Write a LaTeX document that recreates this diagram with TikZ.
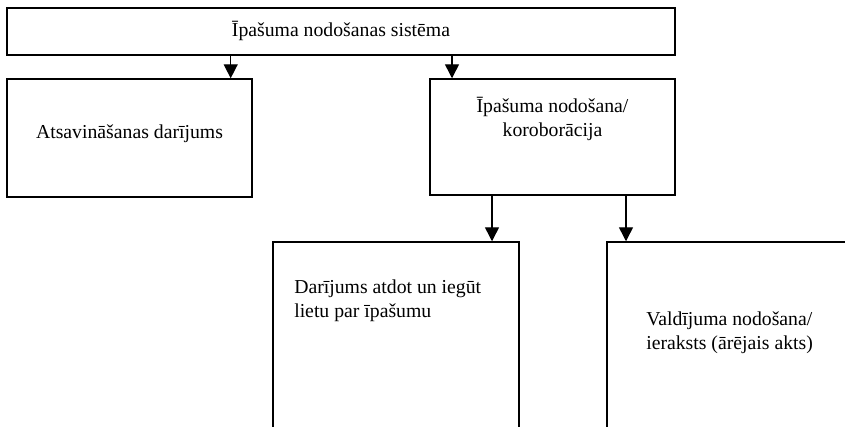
\documentclass[tikz,border=0pt]{standalone}
\usepackage{fontspec}
\setmainfont{Liberation Serif}
\usetikzlibrary{arrows.meta,calc}
\begin{document}
\begin{tikzpicture}[x=0.75pt,y=-0.75pt,
  box/.style={draw=black,line width=1.1pt,rectangle,inner sep=0pt},
  txt/.style={font=\fontsize{14.8}{17.3}\selectfont,inner sep=0pt,align=center},
  txtl/.style={font=\fontsize{14.8}{17.3}\selectfont,inner sep=0pt,align=left,anchor=north west},
  arr/.style={line width=1.1pt,-{Triangle[width=10.5pt,length=10.5pt]}}]
\useasboundingbox (0,0) rectangle (845,427);
\clip (0,0) rectangle (845,427);
\node[box,minimum width=668*0.75pt,minimum height=47*0.75pt] (top) at (341,31.5) {};
\node[box,minimum width=245*0.75pt,minimum height=118*0.75pt] (left) at (129.5,138) {};
\node[box,minimum width=245*0.75pt,minimum height=116*0.75pt] (mid) at (552.5,137) {};
\node[box,minimum width=246*0.75pt,minimum height=200*0.75pt] (bl) at (396,342) {};
\node[box,minimum width=263*0.75pt,minimum height=200*0.75pt] (br) at (738.5,342) {};
\node[txt] (ttop) at (341,31) {Īpašuma nodošanas sistēma};
\node[txt] (tleft) at (129.5,134) {Atsavināšanas darījums};
\node[txt] (tmid) at (552.5,119) {Īpašuma nodošana/\\koroborācija};
\node[txtl] (tbl) at (294,280) {Darījums atdot un iegūt\\lietu par īpašumu};
\node[txtl] (tbr) at (646,312) {Valdījuma nodošana/\\ieraksts (ārējais akts)};
\coordinate (a1) at (230.7,0);
\coordinate (a2) at (452,0);
\coordinate (a3) at (492,0);
\coordinate (a4) at (626,0);
\draw[arr] (top.south -| a1) -- (left.north -| a1);
\draw[arr] (top.south -| a2) -- (mid.north -| a2);
\draw[arr] (mid.south -| a3) -- (bl.north -| a3);
\draw[arr] (mid.south -| a4) -- (br.north -| a4);
\end{tikzpicture}
\end{document}
